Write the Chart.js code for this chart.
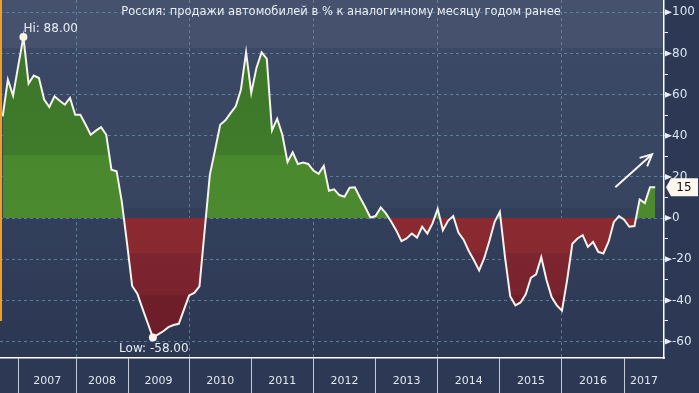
<!DOCTYPE html>
<html>
<head>
<meta charset="utf-8">
<script src="https://cdn.jsdelivr.net/npm/chart.js@4.4.0/dist/chart.umd.min.js"></script>
<style>
  html, body { margin: 0; padding: 0; background: #2d3954; }
  #wrap { width: 699px; height: 393px; }
</style>
</head>
<body>
<div id="wrap"><canvas id="c" width="699" height="393"></canvas></div>
<script>
// продажи авто, % г/г, помесячно; индекс 0 = январь 2007
const sales = [
  49.4, 67.3, 59.5, 74, 88, 65.4, 69.3, 68.1, 57.6, 54,
  59.2, 57, 55.1, 58.4, 50.2, 50.2, 45.5, 40.5, 42.5, 44.2,
  40.5, 23.5, 22.8, 8, -12, -33, -36.7, -44, -51, -58,
  -56.5, -55, -53, -52, -51.4, -44.5, -37.6, -36.4, -33.2, -6,
  21, 33, 45.4, 47.5, 51, 54.3, 62.4, 80.6, 60.8, 73,
  80.6, 77.4, 42.6, 48.3, 40.5, 27.3, 32, 26.3, 27, 26.3,
  23.1, 21.5, 25.4, 13.3, 14, 11.2, 10.4, 14.8, 15, 10,
  5.4, 0.3, 1, 5.2, 2.3, -1.7, -6, -11.2, -9.9, -7.5,
  -9.5, -4.2, -7.5, -2.6, 4.4, -5.9, -1.3, 1, -7, -10.5,
  -16, -20.5, -25.4, -19.4, -11, -1.8, 3, -19, -38, -42.4,
  -41, -37, -29, -27.3, -19, -30, -38.4, -42.4, -45, -30,
  -12.5, -9.9, -8.3, -14, -11.6, -16.4, -17.2, -11.5, -2, 1,
  -0.8, -4.2, -3.9, 9.1, 7.3, 15, 15
];
const years = ['2007', '2008', '2009', '2010', '2011', '2012', '2013', '2014', '2015', '2016', '2017'];
const yearStarts = [3, 14.2, 24.2, 36, 48, 60, 72, 84, 96, 108, 120]; // разделители под осью
const gridMonths = [14.2, 36, 60, 84, 108];
const yTicks = [-60, -50, -40, -30, -20, -10, 0, 10, 20, 30, 40, 50, 60, 70, 80, 90, 100];
const xMin = -0.52, xMax = 127.7;
const title = 'Россия: продажи автомобилей в % к аналогичному месяцу годом ранее';
const trendArrow = [[118.3, 15], [125.4, 31]];

const yearMids = yearStarts.map((s, i) => (s + (i < yearStarts.length - 1 ? yearStarts[i + 1] : xMax)) / 2);
const xTicks = yearStarts.concat(yearMids).sort((a, b) => a - b);
const points = sales.map((v, i) => ({ x: i, y: v }));
const hiIdx = sales.indexOf(Math.max(...sales));
const loIdx = sales.indexOf(Math.min(...sales));

const canvas = document.getElementById('c');
const g = canvas.getContext('2d');
const dash = 'rgba(105,145,175,0.75)';

const greenFill = g.createLinearGradient(0, 0, 0, 218);
greenFill.addColorStop(0, '#3c7529');
greenFill.addColorStop(0.71, '#3f7b2b');
greenFill.addColorStop(0.71, '#4a882e');
greenFill.addColorStop(1, '#4b8a2e');
const redFill = g.createLinearGradient(0, 218, 0, 358);
redFill.addColorStop(0, '#8b2a31');
redFill.addColorStop(0.25, '#88292f');
redFill.addColorStop(0.25, '#7d2530');
redFill.addColorStop(0.55, '#79232e');
redFill.addColorStop(0.55, '#6f1f2a');
redFill.addColorStop(1, '#6a1c28');

const decor = {
  id: 'decor',
  beforeDraw(chart) {
    const { ctx, chartArea: a } = chart;
    ctx.save();
    ctx.fillStyle = '#2d3954';
    ctx.fillRect(0, 0, chart.width, chart.height);
    const bg = ctx.createLinearGradient(0, a.top, 0, a.bottom);
    bg.addColorStop(0, '#46526d');
    bg.addColorStop(0.134, '#46526d');
    bg.addColorStop(0.134, '#3c4966');
    bg.addColorStop(0.58, '#37445f');
    bg.addColorStop(0.58, '#33405b');
    bg.addColorStop(0.76, '#303c58');
    bg.addColorStop(1, '#2c3852');
    ctx.fillStyle = bg;
    ctx.fillRect(a.left, a.top, a.right - a.left, a.bottom - a.top);
    ctx.restore();
  },
  afterDraw(chart) {
    const { ctx, chartArea: a } = chart;
    const xs = chart.scales.x, ys = chart.scales.y;
    ctx.save();

    // оранжевая полоска слева
    ctx.strokeStyle = '#f0a020';
    ctx.lineWidth = 2;
    ctx.beginPath();
    ctx.moveTo(a.left + 1, a.top);
    ctx.lineTo(a.left + 1, ys.getPixelForValue(-50));
    ctx.stroke();

    // треугольники у основных делений
    ctx.fillStyle = '#e8eef5';
    yTicks.filter(v => v % 20 === 0).forEach(v => {
      const y = ys.getPixelForValue(v);
      ctx.beginPath();
      ctx.moveTo(a.right + 1, y - 3);
      ctx.lineTo(a.right + 8, y);
      ctx.lineTo(a.right + 1, y + 3);
      ctx.closePath();
      ctx.fill();
    });

    ctx.font = '11.5px "DejaVu Sans"';
    ctx.fillStyle = '#e8edf4';
    ctx.textAlign = 'center';
    ctx.textBaseline = 'middle';
    ctx.fillText(title, 341, 12);

    // Hi / Low
    ctx.font = '12px "DejaVu Sans"';
    const hx = xs.getPixelForValue(hiIdx), hy = ys.getPixelForValue(sales[hiIdx]);
    ctx.textAlign = 'left';
    ctx.textBaseline = 'alphabetic';
    ctx.fillText('Hi: ' + sales[hiIdx].toFixed(2), hx, hy - 5);
    const lx = xs.getPixelForValue(loIdx), ly = ys.getPixelForValue(sales[loIdx]);
    ctx.textAlign = 'center';
    ctx.textBaseline = 'middle';
    ctx.fillText('Low: ' + sales[loIdx].toFixed(2), lx + 1, ly + 11);

    // стрелка тренда
    const x1 = xs.getPixelForValue(trendArrow[0][0]), y1 = ys.getPixelForValue(trendArrow[0][1]);
    const x2 = xs.getPixelForValue(trendArrow[1][0]), y2 = ys.getPixelForValue(trendArrow[1][1]);
    const ang = Math.atan2(y2 - y1, x2 - x1);
    ctx.strokeStyle = '#f4f4f4';
    ctx.lineWidth = 2;
    ctx.beginPath();
    ctx.moveTo(x1, y1);
    ctx.lineTo(x2, y2);
    ctx.moveTo(x2 - 13 * Math.cos(ang - 0.45), y2 - 13 * Math.sin(ang - 0.45));
    ctx.lineTo(x2, y2);
    ctx.lineTo(x2 - 13 * Math.cos(ang + 0.45), y2 - 13 * Math.sin(ang + 0.45));
    ctx.stroke();

    // метка последнего значения
    const last = sales[sales.length - 1];
    const by = ys.getPixelForValue(last);
    ctx.fillStyle = '#fdf6ec';
    ctx.beginPath();
    ctx.moveTo(a.right + 2, by);
    ctx.lineTo(a.right + 7, by - 9);
    ctx.lineTo(chart.width - 1, by - 9);
    ctx.lineTo(chart.width - 1, by + 9);
    ctx.lineTo(a.right + 7, by + 9);
    ctx.closePath();
    ctx.fill();
    ctx.fillStyle = '#111111';
    ctx.font = '12px "DejaVu Sans"';
    ctx.textAlign = 'center';
    ctx.fillText(String(last), a.right + 20, by + 1);
    ctx.restore();
  }
};

Chart.defaults.font.family = '"DejaVu Sans", sans-serif';
Chart.defaults.font.size = 11;

new Chart(canvas, {
  type: 'line',
  data: {
    datasets: [{
      data: points,
      borderColor: '#f6f2ec',
      borderWidth: 2,
      tension: 0,
      fill: { target: { value: 0 }, above: greenFill, below: redFill },
      pointRadius: c => (c.dataIndex === hiIdx || c.dataIndex === loIdx) ? 4 : 0,
      pointBackgroundColor: '#fbf3ea',
      pointBorderWidth: 0
    }]
  },
  options: {
    responsive: false,
    animation: false,
    layout: { padding: 0 },
    plugins: { legend: { display: false }, tooltip: { enabled: false } },
    scales: {
      x: {
        type: 'linear',
        min: xMin,
        max: xMax,
        afterBuildTicks: s => { s.ticks = xTicks.map(v => ({ value: v })); },
        afterFit: s => { s.height = 35; s.paddingLeft = 0; s.paddingRight = 0; },
        ticks: {
          autoSkip: false,
          maxRotation: 0,
          minRotation: 0,
          padding: -18,
          color: '#dfe7f0',
          callback: v => { const k = yearMids.indexOf(v); return k >= 0 ? years[k] : ''; }
        },
        grid: {
          color: c => (c.tick && gridMonths.includes(c.tick.value)) ? dash : 'rgba(0,0,0,0)',
          tickColor: c => (c.tick && yearStarts.includes(c.tick.value)) ? '#c3cbd6' : 'rgba(0,0,0,0)',
          tickLength: 35,
          lineWidth: 1
        },
        border: { color: '#ffffff', width: 1.5, dash: [3, 3] }
      },
      y: {
        position: 'right',
        min: -68,
        max: 106,
        afterBuildTicks: s => { s.ticks = yTicks.map(v => ({ value: v })); },
        afterFit: s => { s.width = 35; s.paddingTop = 0; s.paddingBottom = 0; },
        ticks: {
          padding: 4,
          color: '#d9e4ef',
          font: { size: 12 },
          callback: v => v % 20 === 0 ? String(v) : ''
        },
        grid: {
          color: c => (c.tick && c.tick.value % 20 === 0) ? dash : 'rgba(0,0,0,0)',
          tickColor: '#e8eef5',
          tickLength: 4,
          lineWidth: 1
        },
        border: { color: '#ffffff', width: 1.5, dash: [3, 3] }
      }
    }
  },
  plugins: [decor]
});
</script>
</body>
</html>
